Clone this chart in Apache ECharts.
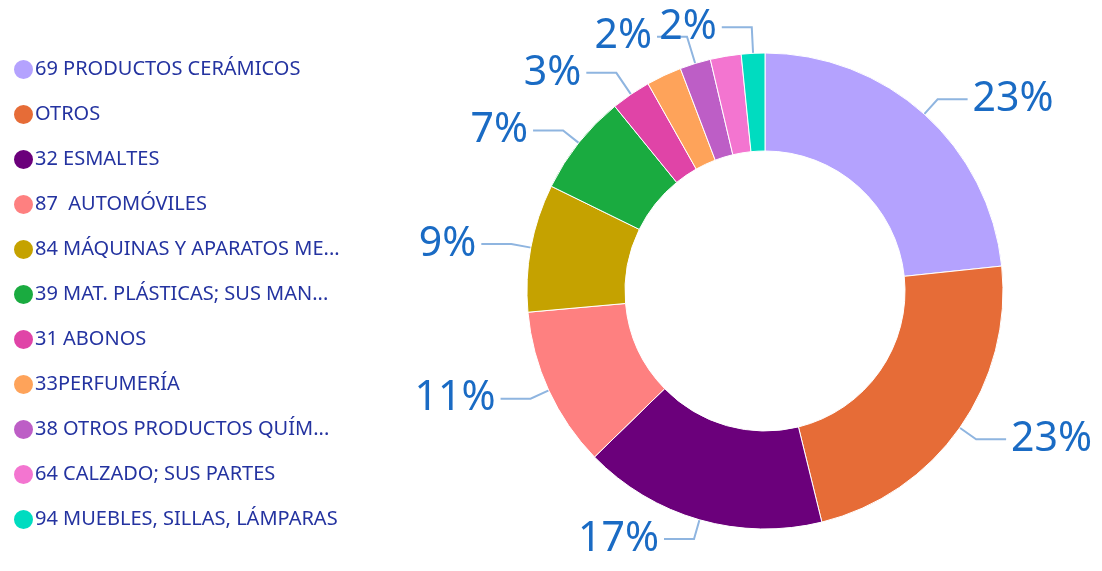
<!DOCTYPE html>
<html>
<head>
<meta charset="utf-8">
<script src="https://cdn.jsdelivr.net/npm/echarts@6/dist/echarts.min.js"></script>
<style>
  html, body { margin: 0; padding: 0; background: #fff; }
  #chart { width: 1102px; height: 571px; }
</style>
</head>
<body>
<div id="chart"></div>
<script>
  const categories = [
    '69 PRODUCTOS CERÁMICOS',
    'OTROS',
    '32 ESMALTES',
    '87  AUTOMÓVILES',
    '84 MÁQUINAS Y APARATOS MECÁNICOS',
    '39 MAT. PLÁSTICAS; SUS MANUFACTURAS',
    '31 ABONOS',
    '33PERFUMERÍA',
    '38 OTROS PRODUCTOS QUÍMICOS',
    '64 CALZADO; SUS PARTES',
    '94 MUEBLES, SILLAS, LÁMPARAS'
  ]
  const values = [23.4, 22.9, 16.6, 10.9, 8.7, 6.9, 2.7, 2.4, 2.1, 2.1, 1.6]
  const colors = ['#b4a2fe', '#e66c37', '#6b007b', '#fe8080', '#c5a200',
    '#1aab40', '#e044a7', '#fea35a', '#bd5ec6', '#f375d0', '#00dcc0']
  // labels that the original hides because they overlap
  const hiddenLabels = ['33PERFUMERÍA', '64 CALZADO; SUS PARTES']
  // longer leader lines for the crowded small slices at the top
  const longLines = {
    '31 ABONOS': 26,
    '38 OTROS PRODUCTOS QUÍMICOS': 28,
    '94 MUEBLES, SILLAS, LÁMPARAS': 26
  }

  const chart = echarts.init(document.getElementById('chart'))
  const option = {
    color: colors,
    legend: {
      orient: 'vertical',
      left: 7,
      top: 53,
      icon: 'circle',
      itemWidth: 21,
      itemHeight: 21,
      itemGap: 22,
      textStyle: {
        color: '#2433a0',
        fontSize: 20,
        lineHeight: 20,
        fontFamily: 'Noto Sans',
        width: 306,
        overflow: 'truncate',
        padding: [0, 0, 0, -4]
      },
      data: categories
    },
    series: [
      {
        type: 'pie',
        center: [765, 291],
        radius: [140, 238],
        startAngle: 90,
        clockwise: true,
        avoidLabelOverlap: false,
        itemStyle: { borderColor: '#fff', borderWidth: 1 },
        label: {
          show: true,
          position: 'outside',
          overflow: 'none',
          formatter: p => Math.round(p.percent) + '%',
          color: '#1a6bc4',
          fontSize: 41,
          fontFamily: 'Noto Sans'
        },
        labelLine: {
          show: true,
          length: 20,
          length2: 30,
          lineStyle: { color: '#8fb5e0', width: 2 }
        },
        data: categories.map((name, i) => ({
          name: name,
          value: values[i],
          label: { show: !hiddenLabels.includes(name) },
          labelLine: {
            show: !hiddenLabels.includes(name),
            length: longLines[name] || 20
          }
        }))
      }
    ]
  }
  chart.setOption(option)
</script>
</body>
</html>
